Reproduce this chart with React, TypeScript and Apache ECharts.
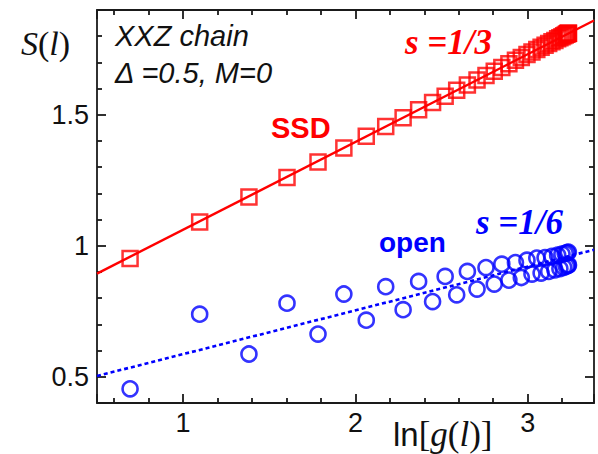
import React, { useEffect, useRef } from "react";
import * as echarts from "echarts";

// x = ln[g(l)] for l = 2 .. 40
const lnG = [
  0.692, 1.096, 1.382, 1.603, 1.783, 1.933, 2.063, 2.176, 2.277, 2.367,
  2.448, 2.521, 2.588, 2.650, 2.706, 2.758, 2.806, 2.850, 2.891, 2.929,
  2.963, 2.996, 3.025, 3.053, 3.078, 3.101, 3.122, 3.141, 3.158, 3.174,
  3.187, 3.199, 3.209, 3.218, 3.225, 3.230, 3.234, 3.236, 3.237,
];

// S(l) for SSD (squares)
const ssdS = [
  0.952, 1.091, 1.186, 1.261, 1.320, 1.373, 1.418, 1.455, 1.489, 1.519,
  1.547, 1.571, 1.594, 1.614, 1.633, 1.650, 1.666, 1.681, 1.695, 1.708,
  1.719, 1.730, 1.740, 1.749, 1.758, 1.765, 1.772, 1.779, 1.784, 1.790,
  1.794, 1.798, 1.802, 1.805, 1.807, 1.809, 1.810, 1.811, 1.811,
];

// S(l) for open chain (circles)
const openS = [
  0.454, 0.739, 0.587, 0.781, 0.663, 0.816, 0.716, 0.844, 0.756, 0.864,
  0.787, 0.883, 0.813, 0.902, 0.835, 0.917, 0.854, 0.930, 0.869, 0.936,
  0.879, 0.945, 0.892, 0.953, 0.896, 0.955, 0.902, 0.960, 0.908, 0.964,
  0.913, 0.968, 0.918, 0.971, 0.922, 0.974, 0.925, 0.976, 0.927,
];

// fit lines (end points)
const fitX = [0.5, 3.385];
const ssdFit = [0.894, 1.86];
const openFit = [0.503, 0.985];

const xRange = [0.5, 3.385];
const yRange = [0.4, 1.9];

const RED = "#ff0000";
const BLUE = "#0000ff";
const AX = "#1a1a1a";
const SANS = "Liberation Sans";
const SERIF = "Liberation Serif";

export default function App() {
  const ref = useRef<HTMLDivElement>(null);
  useEffect(() => {
    if (!ref.current) return;
    const chart = echarts.init(ref.current, undefined, { renderer: "svg" });
    const lineStyle = { color: AX, width: 1.8 };
    const mkX = (pos: "bottom" | "top", labels: boolean) => ({
      type: "value",
      position: pos,
      min: xRange[0],
      max: xRange[1],
      splitNumber: 3,
      axisLine: { show: true, onZero: false, lineStyle },
      axisTick: { show: true, inside: true, length: 9, lineStyle },
      minorTick: { show: true, splitNumber: 5, length: 5, lineStyle },
      splitLine: { show: false },
      axisLabel: {
        show: labels,
        showMinLabel: false,
        showMaxLabel: false,
        fontSize: 27,
        fontFamily: SANS,
        color: "#111",
        margin: 6,
      },
    });
    const mkY = (pos: "left" | "right", labels: boolean) => ({
      type: "value",
      position: pos,
      min: yRange[0],
      max: yRange[1],
      splitNumber: 3,
      axisLine: { show: true, onZero: false, lineStyle },
      axisTick: { show: true, inside: true, length: 9, lineStyle },
      minorTick: { show: true, splitNumber: 5, length: 5, lineStyle },
      splitLine: { show: false },
      axisLabel: {
        show: labels,
        showMinLabel: false,
        showMaxLabel: false,
        fontSize: 27,
        fontFamily: SANS,
        color: "#111",
        margin: 8,
      },
    });
    chart.setOption({
      animation: false,
      grid: { left: 97, right: 4, top: 10, bottom: 51 },
      xAxis: [mkX("bottom", true), mkX("top", false)],
      yAxis: [mkY("left", true), mkY("right", false)],
      series: [
        {
          type: "line",
          data: fitX.map((x, i) => [x, ssdFit[i]]),
          showSymbol: false,
          symbol: "none",
          lineStyle: { color: RED, width: 2.4 },
          z: 1,
        },
        {
          type: "line",
          data: fitX.map((x, i) => [x, openFit[i]]),
          showSymbol: false,
          symbol: "none",
          lineStyle: { color: BLUE, width: 2.6, type: [4, 3] },
          z: 1,
        },
        {
          type: "scatter",
          data: lnG.map((x, i) => [x, ssdS[i]]),
          symbol: "rect",
          symbolSize: 15,
          itemStyle: { color: "rgba(0,0,0,0)", borderColor: RED, borderWidth: 2.5 },
          z: 3,
        },
        {
          type: "scatter",
          data: lnG.map((x, i) => [x, openS[i]]),
          symbol: "circle",
          symbolSize: 15,
          itemStyle: { color: "rgba(0,0,0,0)", borderColor: BLUE, borderWidth: 2.6 },
          z: 3,
        },
      ],
      graphic: [
        {
          type: "text",
          x: 21,
          y: 43,
          style: {
            text: "{i|S}{n|(}{i|l}{n|)}",
            verticalAlign: "middle",
            rich: {
              i: { fontFamily: SERIF, fontStyle: "italic", fontSize: 34, fill: "#111" },
              n: { fontFamily: SERIF, fontSize: 34, fill: "#111" },
            },
          },
        },
        {
          type: "text",
          x: 115,
          y: 36,
          style: {
            text: "XXZ chain",
            font: `italic 29px "${SANS}"`,
            fill: "#111",
            verticalAlign: "middle",
          },
        },
        {
          type: "text",
          x: 115,
          y: 73,
          style: {
            text: "Δ =0.5, M=0",
            font: `italic 29px "${SANS}"`,
            fill: "#111",
            verticalAlign: "middle",
          },
        },
        {
          type: "text",
          x: 271,
          y: 128,
          style: {
            text: "SSD",
            font: `bold 29px "${SANS}"`,
            fill: RED,
            verticalAlign: "middle",
          },
        },
        {
          type: "text",
          x: 405,
          y: 42,
          style: {
            text: "s =1/3",
            font: `italic bold 35px "${SERIF}"`,
            fill: RED,
            verticalAlign: "middle",
          },
        },
        {
          type: "text",
          x: 379,
          y: 242,
          style: {
            text: "open",
            font: `bold 28px "${SANS}"`,
            fill: BLUE,
            verticalAlign: "middle",
          },
        },
        {
          type: "text",
          x: 476,
          y: 222,
          style: {
            text: "s =1/6",
            font: `italic bold 35px "${SERIF}"`,
            fill: BLUE,
            verticalAlign: "middle",
          },
        },
        {
          type: "text",
          x: 393,
          y: 434,
          style: {
            text: "{a|ln}{b|[}{i|g}{b|(}{i|l}{b|)]}",
            verticalAlign: "middle",
            rich: {
              a: { fontFamily: SANS, fontSize: 33, fill: "#111" },
              b: { fontFamily: SERIF, fontSize: 35, fill: "#111" },
              i: { fontFamily: SERIF, fontStyle: "italic", fontSize: 35, fill: "#111" },
            },
          },
        },
      ],
    });
    return () => chart.dispose();
  }, []);
  return (
    <div
      ref={ref}
      style={{ position: "fixed", left: 0, top: 0, width: 598, height: 454, background: "#fff" }}
    />
  );
}
